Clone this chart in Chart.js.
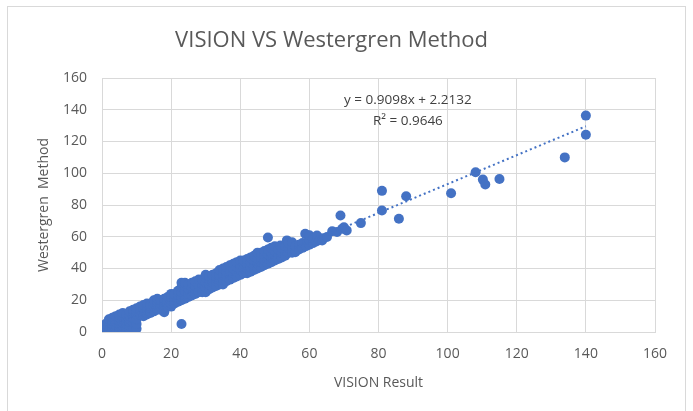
<!DOCTYPE html>
<html>
<head>
<meta charset="utf-8">
<script src="https://cdn.jsdelivr.net/npm/chart.js@4.4.1/dist/chart.umd.min.js"></script>
<style>
html,body{margin:0;padding:0;background:#fff;}
#wrap{width:693px;height:411px;position:relative;}
</style>
</head>
<body>
<div id="wrap"><canvas id="c" width="693" height="411"></canvas></div>
<script>
// VISION Result (x) values
const visionResult = [
  1,1,1,2,2,2,2,2,3,3,3,3,3,4,4,4,4,4,4,5,5,5,5,5,5,5,
  6,6,6,6,6,6,6,7,7,7,7,7,7,8,8,8,8,8,8,8,9,9,9,9,9,9,10,10,10,10,10,10,
  11,11,11,11,12,12,12,12,12,13,13,13,13,13,14,14,14,14,15,15,15,15,15,
  16,16,16,16,16,17,17,17,17,18,18,18,18,18,19,19,19,19,20,20,20,20,20,
  21,21,21,21,22,22,22,22,23,23,23,23,23,23,24,24,24,24,24,25,25,25,25,
  26,26,26,26,27,27,27,27,28,28,28,28,29,29,29,29,30,30,30,30,30,
  31,31,31,31,32,32,32,32,33,33,33,33,34,34,34,34,35,35,35,35,
  36,36,36,36,37,37,37,37,38,38,38,38,39,39,39,39,40,40,40,40,
  41,41,41,41,42,42,42,42,43,43,43,43,44,44,44,44,45,45,45,45,
  46,46,46,46,47,47,47,47,48,48,48,48,48,49,49,49,49,50,50,50,50,
  51,51,51,51.6,52,52,52,53,53,53,53.5,54,54,54,55,55,55,55.9,56,56,
  57,57,58,58,59,59.4,58.8,60,60,60,
  61,61,62,62.2,63,63.7,64,65.1,66.6,
  68,69,69.5,70,70.8,74.9,
  81,81,85.9,88,101,108.1,110.2,110.9,115,133.9,140,140
];
// Westergren Method (y) values
const westergrenMethod = [
  1,3,5,0,2,4,6,8,1,3,5,7,9,0,2,4,6,8,10,0,1,3,5,7,9,11,
  0,2,4,6,8,10,12,1,3,5,7,9,11,0,2,4,6,8,10,13,1,3,6,9,12,14,2,5,8,11,13,15,
  11,12,14,16,10,11,13,15,17,11,12,14,16,18,12,13,15,17,13,14,16,18,20,
  14,15,17,19,21,14,16,18,20,12.5,15,17,19,21,16,18,20,22,16,18,20,22,24,
  18,20,22,24,19,21,23,26,5,20,22,25,28,31,21,23,26,29,31,22,24,27,30,
  23,26,28,31,24,27,29,32,25,28,30,33,25,27,30,33,25,28,31,34,36,
  27,30,33,35,28,31,34,36,29,32,35,37,30,33,36,39,30,33,36,40,
  32,35,38,41,33,36,39,42,34,37,40,43,35,38,41,44,36,39,42,45,
  37,40,43,45,37,40,43,46,38,41,44,47,39,42,45,48,40,43,46,50,
  41,44,47,50,42,45,48,51,43,46,49,52,59.5,44,47,50,53,45,48,51,54,
  46,49,52,54.5,47,50,53,48,51,54,57.7,50,53,56,50,53,56.5,50.3,51,54,
  52,55,53,56,54,56.6,61.9,55,58,61,
  56,59,57,60.8,58,57.7,59,59.8,63.5,
  63,73.4,65,66,64,68.6,
  88.9,76.5,71.3,85.5,87.4,100.6,96,92.9,96.4,110,136.3,124.3
];
// trendline reported on the chart
const trendSlope = 0.9098;
const trendIntercept = 2.2132;
const trendLabel = "y = 0.9098x + 2.2132";
const r2Label = "R² = 0.9646";
const xTicks = [0,20,40,60,80,100,120,140,160];
const yTicks = [0,20,40,60,80,100,120,140,160];

const points = visionResult.map((x,i)=>({x:x, y:westergrenMethod[i]}));
const xMin = Math.min(...visionResult), xMax = Math.max(...visionResult);
const trend = [xMin, xMax].map(x=>({x:x, y:trendSlope*x+trendIntercept}));

const blue = '#4472C4';
const grid = '#d9d9d9';
const txt = '#595959';
const FONT = "'Open Sans', sans-serif";

const frame = {
  id:'frame',
  beforeDraw(chart){
    const ctx = chart.ctx;
    ctx.save();
    ctx.fillStyle='#fff';
    ctx.fillRect(0,0,chart.width,chart.height);
    ctx.strokeStyle='#d9d9d9';
    ctx.lineWidth=1;
    ctx.strokeRect(7.5,6.5,678,420);
    ctx.restore();
  },
  afterDatasetsDraw(chart){
    const ctx = chart.ctx;
    const xs = chart.scales.x, ys = chart.scales.y;
    ctx.save();
    ctx.fillStyle='#404040';
    ctx.font="13.5px "+FONT;
    ctx.textAlign='center';
    ctx.textBaseline='middle';
    ctx.fillText(trendLabel, xs.getPixelForValue(88.5), ys.getPixelForValue(145.5)-1);
    ctx.fillText(r2Label, xs.getPixelForValue(88.5), ys.getPixelForValue(132.5)-1);
    ctx.restore();
  }
};

new Chart(document.getElementById('c'), {
  type:'scatter',
  data:{
    datasets:[
      {
        label:'Trend',
        type:'line',
        data:trend,
        borderColor:blue,
        borderWidth:2,
        borderDash:[2,3],
        pointRadius:0,
        fill:false,
        order:0
      },
      {
        label:'Data',
        data:points,
        backgroundColor:blue,
        borderColor:blue,
        borderWidth:0,
        pointRadius:5,
        pointHoverRadius:5,
        order:1
      }
    ]
  },
  options:{
    responsive:false,
    animation:false,
    devicePixelRatio:1,
    layout:{padding:{left:8,right:38,top:0,bottom:0}},
    plugins:{
      legend:{display:false},
      tooltip:{enabled:false},
      title:{
        display:true,
        text:'VISION VS Westergren Method',
        color:txt,
        font:{family:FONT,size:22,weight:'normal',lineHeight:1.2},
        padding:{top:28,bottom:23.6}
      }
    },
    scales:{
      x:{
        type:'linear',
        min:0,max:160,
        afterBuildTicks(s){ s.ticks = xTicks.map(v=>({value:v})); },
        afterFit(s){ s.height = 79; },
        grid:{color:grid,lineWidth:1,drawTicks:false},
        border:{color:grid},
        ticks:{color:txt,font:{family:FONT,size:14},padding:14},
        title:{display:true,text:'VISION Result',color:txt,font:{family:FONT,size:14,lineHeight:1.2},padding:{top:20,bottom:20}}
      },
      y:{
        type:'linear',
        min:0,max:160,
        afterBuildTicks(s){ s.ticks = yTicks.map(v=>({value:v})); },
        afterFit(s){ s.width = 94; },
        grid:{color:grid,lineWidth:1,drawTicks:false},
        border:{color:grid},
        ticks:{color:txt,font:{family:FONT,size:14},padding:15},
        title:{display:true,text:'Westergren  Method',color:txt,font:{family:FONT,size:14,lineHeight:1.2},padding:{top:28,bottom:0}}
      }
    }
  },
  plugins:[frame]
});
</script>
</body>
</html>
